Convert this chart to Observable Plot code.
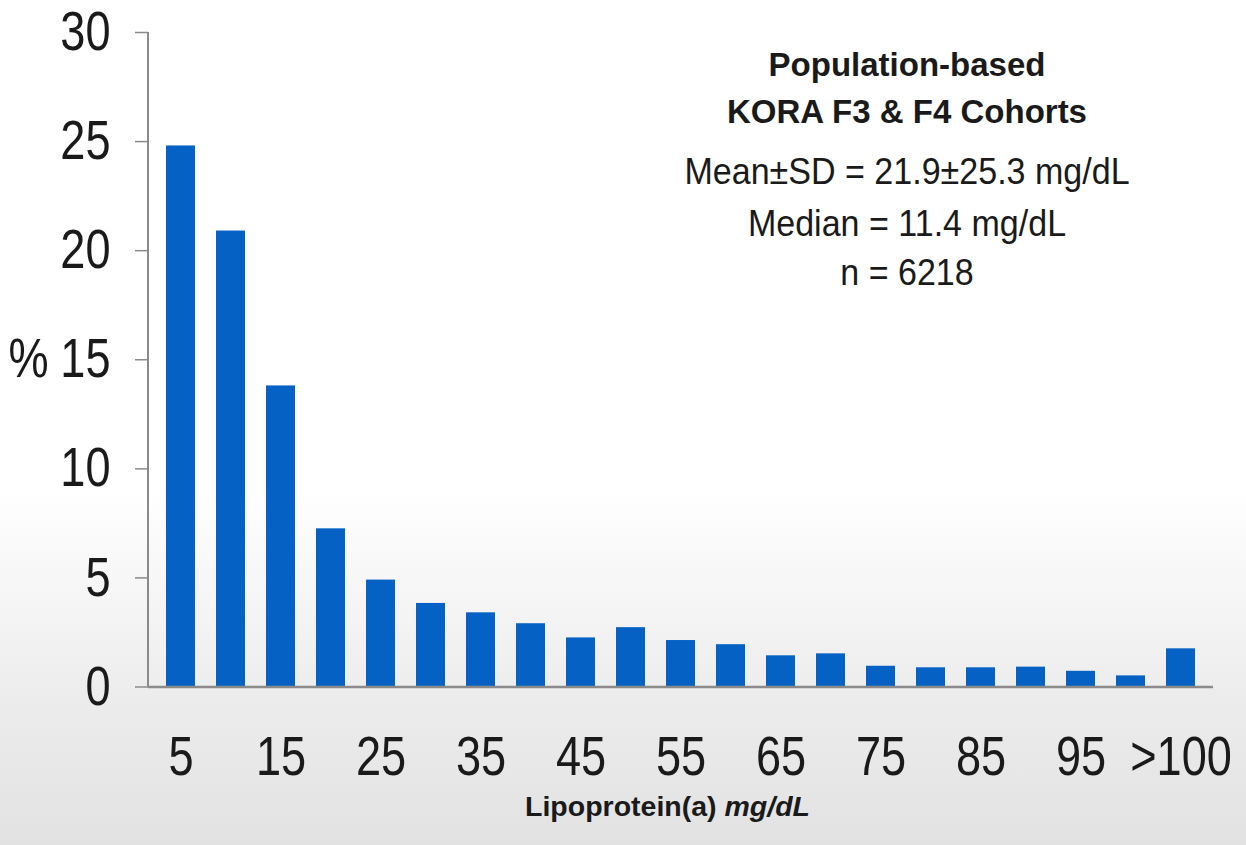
<!DOCTYPE html>
<html>
<head>
<meta charset="utf-8">
<script src="https://cdn.jsdelivr.net/npm/d3@7"></script>
<script src="https://cdn.jsdelivr.net/npm/@observablehq/plot@0.6"></script>
<style>
  html, body { margin: 0; padding: 0; }
  body { width: 1246px; height: 845px; overflow: hidden;
    background: linear-gradient(to bottom, #ffffff 0px, #ffffff 490px, #f5f5f5 600px, #ececec 700px, #e2e2e2 845px); }
</style>
</head>
<body>
<div id="chart"></div>
<script>
const categories = ["5","10","15","20","25","30","35","40","45","50","55","60","65","70","75","80","85","90","95","100",">100"];
const percents = [24.8, 20.9, 13.8, 7.25, 4.9, 3.83, 3.4, 2.9, 2.25, 2.72, 2.13, 1.94, 1.43, 1.52, 0.95, 0.88, 0.88, 0.91, 0.72, 0.51, 1.75];
const xTickLabels = ["5","15","25","35","45","55","65","75","85","95",">100"];
const yTicks = [0, 5, 10, 15, 20, 25, 30];
const annotationLines = ["Population-based", "KORA F3 & F4 Cohorts", "Mean±SD = 21.9±25.3 mg/dL", "Median = 11.4 mg/dL", "n = 6218"];
const annotationBold = [true, true, false, false, false];

const data = categories.map((c, i) => ({cat: c, pct: percents[i]}));
const FONT = "'Liberation Sans', Arial, Helvetica, sans-serif";

function yAxisLine(index, scales, values, dimensions) {
  const g = d3.create("svg:g");
  g.append("line")
    .attr("x1", dimensions.marginLeft).attr("x2", dimensions.marginLeft)
    .attr("y1", scales.y(30)).attr("y2", scales.y(0))
    .attr("stroke", "#8a8a8a").attr("stroke-width", 2);
  return g.node();
}

function xTitle(index, scales, values, dimensions) {
  const cx = (dimensions.marginLeft + dimensions.width - dimensions.marginRight) / 2 - 13;
  const t = d3.create("svg:text")
    .attr("x", cx).attr("y", scales.y(0) + 129)
    .attr("text-anchor", "middle")
    .attr("font-family", FONT).attr("font-size", 28.5).attr("font-weight", "bold")
    .attr("fill", "#1a1a1a").attr("data-narrow", 1);
  t.append("tspan").text("Lipoprotein(a) ");
  t.append("tspan").attr("font-style", "italic").text("mg/dL");
  return t.node();
}

const annoDy = [33, 80, 140, 192, 241];

const plot = Plot.plot({
  width: 1246,
  height: 845,
  marginLeft: 148,
  marginRight: 33,
  marginTop: 32,
  marginBottom: 158.5,
  style: {background: "transparent", fontFamily: FONT, color: "#1a1a1a", overflow: "visible"},
  x: {type: "band", domain: categories, paddingInner: 0.42, paddingOuter: 0.2, label: null},
  y: {domain: [0, 30], label: null},
  marks: [
    Plot.barY(data, {x: "cat", y: "pct", fill: "#0562c4"}),
    Plot.ruleY([0], {stroke: "#8a8a8a", strokeWidth: 2.5}),
    yAxisLine,
    Plot.axisY({ticks: yTicks, tickSize: 13, tickPadding: 25, fontSize: 55, stroke: "#8a8a8a", strokeWidth: 1.5, label: null, fill: "#1a1a1a"}),
    Plot.axisX({ticks: xTickLabels, tickSize: 0, tickPadding: 49, fontSize: 55, label: null, fill: "#1a1a1a"}),
    Plot.text(["%"], {y: [15], frameAnchor: "left", dx: -140, textAnchor: "start", fontSize: 55, fill: "#1a1a1a"}),
    ...annotationLines.map((line, i) => Plot.text([line], {
      frameAnchor: "top", lineAnchor: "middle", dx: 226, dy: annoDy[i],
      fontSize: annotationBold[i] ? 33 : 37,
      fontWeight: annotationBold[i] ? "bold" : "normal",
      fill: "#1a1a1a",
      className: annotationBold[i] ? "anno-bold" : "anno-regular"
    })),
    xTitle
  ]
});
document.getElementById("chart").appendChild(plot);

// condense texts horizontally (Arial Narrow look), keeping their anchors
function condense(el, f) {
  const len = el.getComputedTextLength();
  if (len > 0 && f < 1) {
    el.setAttribute("textLength", (len * f).toFixed(2));
    el.setAttribute("lengthAdjust", "spacingAndGlyphs");
  }
}
plot.querySelectorAll("text").forEach(t => {
  let f = 0.82;
  if (t.closest(".anno-bold")) f = 1.0;
  else if (t.closest(".anno-regular")) f = 0.92;
  if (t.hasAttribute("data-narrow")) f = +t.getAttribute("data-narrow");
  const spans = t.querySelectorAll("tspan");
  if (spans.length > 1) spans.forEach(s => condense(s, f));
  else condense(t, f);
});
</script>
</body>
</html>
